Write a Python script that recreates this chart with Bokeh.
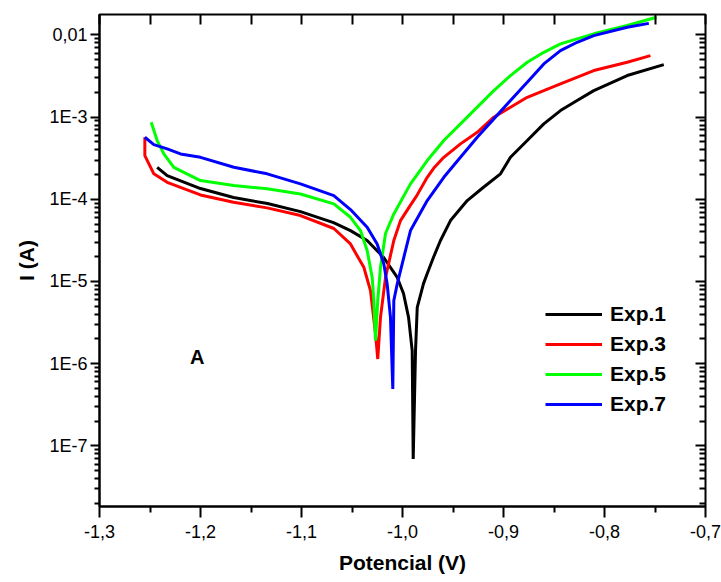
from bokeh.plotting import figure
from bokeh.models import (Range1d, FixedTicker, CustomJSTickFormatter, LinearAxis, LogAxis,
                          Label, Legend, LegendItem)
from bokeh.embed import file_html
from bokeh.resources import INLINE

# ---------------- data ----------------
exp1_x = [-1.2429, -1.233, -1.2, -1.1673, -1.1337, -1.101, -1.0683, -1.0515, -1.035, -1.0188,
          -1.0052, -0.999, -0.994, -0.9904, -0.9894, -0.9871, -0.9854, -0.9792, -0.9755, -0.9693,
          -0.9624, -0.9525, -0.9359, -0.9198, -0.903, -0.8931, -0.8765, -0.8601, -0.8436, -0.8271,
          -0.8106, -0.7775, -0.7413]
exp1_y = [2.45e-4, 1.94e-4, 1.35e-4, 1.05e-4, 8.87e-5, 7.08e-5, 5.21e-5, 4.16e-5, 3.15e-5, 1.97e-5,
          1.12e-5, 7.13e-6, 3.66e-6, 1.44e-6, 6.95e-8, 1.44e-6, 4.85e-6, 9.42e-6, 1.25e-5, 1.97e-5,
          3.15e-5, 5.51e-5, 9.64e-5, 1.40e-4, 2.04e-4, 3.24e-4, 5.18e-4, 8.26e-4, 1.20e-3, 1.59e-3,
          2.10e-3, 3.20e-3, 4.35e-3]

exp3_x = [-1.2551, -1.2551, -1.2462, -1.233, -1.2, -1.1673, -1.134, -1.101, -1.068, -1.0515,
          -1.0433, -1.0383, -1.0317, -1.0267, -1.0245, -1.0218, -1.0168, -1.0086, -1.002, -0.9921,
          -0.986, -0.9755, -0.969, -0.9591, -0.9426, -0.926, -0.9096, -0.8931, -0.8765, -0.8601,
          -0.8436, -0.8106, -0.7775, -0.7545]
exp3_y = [5.68e-4, 3.40e-4, 2.04e-4, 1.61e-4, 1.13e-4, 9.20e-5, 7.86e-5, 6.34e-5, 4.41e-5, 2.86e-5,
          1.90e-5, 1.49e-5, 7.75e-6, 2.31e-6, 1.14e-6, 3.66e-6, 1.12e-5, 3.15e-5, 5.5e-5, 8.5e-5,
          1.1e-4, 1.85e-4, 2.4e-4, 3.24e-4, 4.72e-4, 6.53e-4, 9.96e-4, 1.32e-3, 1.74e-3, 2.10e-3,
          2.54e-3, 3.68e-3, 4.64e-3, 5.60e-3]

exp5_x = [-1.2488, -1.2429, -1.2363, -1.2264, -1.2, -1.167, -1.134, -1.101, -1.068, -1.0515,
          -1.0416, -1.035, -1.03, -1.0284, -1.0267, -1.0245, -1.0218, -1.0168, -1.0086, -0.9921,
          -0.9755, -0.9591, -0.9426, -0.926, -0.9096, -0.8931, -0.8765, -0.8601, -0.8436, -0.8106,
          -0.7775, -0.7485]
exp5_y = [8.65e-4, 5.18e-4, 3.56e-4, 2.45e-4, 1.69e-4, 1.47e-4, 1.34e-4, 1.16e-4, 8.79e-5, 6.04e-5,
          4.16e-5, 2.38e-5, 1.12e-5, 5.86e-6, 1.91e-6, 5.86e-6, 1.49e-5, 3.83e-5, 6.64e-5, 1.54e-4,
          2.96e-4, 5.18e-4, 8.26e-4, 1.32e-3, 2.10e-3, 3.20e-3, 4.64e-3, 6.14e-3, 7.78e-3, 1.03e-2,
          1.30e-2, 1.64e-2]

exp7_x = [-1.2551, -1.2462, -1.233, -1.2198, -1.2, -1.167, -1.134, -1.101, -1.068, -1.0515,
          -1.035, -1.0251, -1.0185, -1.0152, -1.0119, -1.0096, -1.0086, -1.0052, -0.9987, -0.9921,
          -0.9755, -0.9591, -0.9426, -0.926, -0.9096, -0.8931, -0.8765, -0.8601, -0.8436, -0.8271,
          -0.8106, -0.7775, -0.7561]
exp7_y = [5.68e-4, 4.62e-4, 4.10e-4, 3.56e-4, 3.24e-4, 2.45e-4, 2.04e-4, 1.54e-4, 1.11e-4, 7.50e-5,
          4.56e-5, 2.86e-5, 1.64e-5, 9.35e-6, 3.66e-6, 4.93e-7, 5.86e-6, 9.35e-6, 1.97e-5, 4.16e-5,
          9.64e-5, 1.85e-4, 3.24e-4, 5.68e-4, 9.51e-4, 1.59e-3, 2.65e-3, 4.43e-3, 6.44e-3, 8.13e-3,
          9.80e-3, 1.24e-2, 1.38e-2]

series_names = ["Exp.1", "Exp.3", "Exp.5", "Exp.7"]
series_colors = ["#000000", "#ff0000", "#00ff00", "#0000ff"]

x_ticks = [-1.3, -1.2, -1.1, -1.0, -0.9, -0.8, -0.7]
x_tick_labels = ["-1,3", "-1,2", "-1,1", "-1,0", "-0,9", "-0,8", "-0,7"]
x_minor = [-1.25, -1.15, -1.05, -0.95, -0.85, -0.75]
y_ticks = [1e-7, 1e-6, 1e-5, 1e-4, 1e-3, 1e-2]
y_tick_labels = ["1E-7", "1E-6", "1E-5", "1E-4", "1E-3", "0,01"]
y_minor = [m * 10.0 ** e for e in range(-8, -1) for m in range(2, 10)]

FONT = "Liberation Sans"

p = figure(width=721, height=582, output_backend="svg", toolbar_location=None,
           y_axis_type="log",
           x_range=Range1d(-1.3, -0.7), y_range=Range1d(1.83e-8, 0.0177),
           min_border_left=99, min_border_right=16, min_border_top=14, min_border_bottom=76)
p.background_fill_color = "white"
p.border_fill_color = "white"
p.outline_line_color = "black"
p.outline_line_width = 2
p.xgrid.visible = False
p.ygrid.visible = False

xs = [exp1_x, exp3_x, exp5_x, exp7_x]
ys = [exp1_y, exp3_y, exp5_y, exp7_y]
renderers = []
for x, y, c in zip(xs, ys, series_colors):
    renderers.append(p.line(x, y, line_color=c, line_width=3))

# bottom axis
xa = p.xaxis[0]
xa.ticker = FixedTicker(ticks=x_ticks, minor_ticks=x_minor)
xa.formatter = CustomJSTickFormatter(args=dict(t=x_ticks, l=x_tick_labels), code="""
    for (let i = 0; i < t.length; i++) { if (Math.abs(t[i] - tick) < 1e-6) return l[i]; }
    return "";
""")
xa.axis_label = "Potencial (V)"
xa.axis_label_text_font = FONT
xa.axis_label_text_font_style = "bold"
xa.axis_label_text_font_size = "21px"
xa.axis_label_text_color = "black"
xa.axis_label_standoff = 10
xa.major_label_text_font = FONT
xa.major_label_text_font_size = "18px"
xa.major_label_text_color = "black"
xa.major_label_standoff = 7
xa.axis_line_width = 2
xa.axis_line_color = "black"
xa.major_tick_line_width = 2
xa.minor_tick_line_width = 2
xa.major_tick_line_color = "black"
xa.minor_tick_line_color = "black"
xa.major_tick_out = 11
xa.major_tick_in = 0
xa.minor_tick_out = 6
xa.minor_tick_in = 0

# left axis
ya = p.yaxis[0]
ya.ticker = FixedTicker(ticks=y_ticks, minor_ticks=y_minor)
ya.formatter = CustomJSTickFormatter(args=dict(t=y_ticks, l=y_tick_labels), code="""
    for (let i = 0; i < t.length; i++) { if (Math.abs(Math.log10(t[i]) - Math.log10(tick)) < 1e-6) return l[i]; }
    return "";
""")
ya.axis_label = "I (A)"
ya.axis_label_text_font = FONT
ya.axis_label_text_font_style = "bold"
ya.axis_label_text_font_size = "21px"
ya.axis_label_text_color = "black"
ya.axis_label_standoff = 8
ya.major_label_text_font = FONT
ya.major_label_text_font_size = "18px"
ya.major_label_text_color = "black"
ya.major_label_standoff = 3
ya.axis_line_width = 2
ya.axis_line_color = "black"
ya.major_tick_line_width = 2
ya.minor_tick_line_width = 2
ya.major_tick_line_color = "black"
ya.minor_tick_line_color = "black"
ya.major_tick_out = 9
ya.major_tick_in = 0
ya.minor_tick_out = 5
ya.minor_tick_in = 0

blank = CustomJSTickFormatter(code="return '';")

# top axis (ticks only, inward)
ta = LinearAxis(ticker=FixedTicker(ticks=x_ticks + x_minor, minor_ticks=[]), formatter=blank)
ta.axis_line_alpha = 0
ta.major_tick_line_width = 2
ta.major_tick_line_color = "black"
ta.major_tick_in = 10
ta.major_tick_out = 0
ta.minor_tick_line_alpha = 0
ta.major_label_text_font_size = "1px"
ta.major_label_standoff = 0
p.add_layout(ta, "above")

# right axis (ticks only, inward)
ra = LogAxis(ticker=FixedTicker(ticks=y_ticks, minor_ticks=y_minor), formatter=blank)
ra.axis_line_alpha = 0
ra.major_tick_line_width = 2
ra.minor_tick_line_width = 2
ra.major_tick_line_color = "black"
ra.minor_tick_line_color = "black"
ra.major_tick_in = 10
ra.major_tick_out = 0
ra.minor_tick_in = 6
ra.minor_tick_out = 0
ra.major_label_text_font_size = "1px"
ra.major_label_standoff = 0
p.add_layout(ra, "right")

# panel letter
p.add_layout(Label(x=-1.2033, y=1.22e-6, text="A", text_font=FONT, text_font_style="bold",
                   text_font_size="20px", text_color="black",
                   text_align="center", text_baseline="middle"))

# legend
legend = Legend(items=[LegendItem(label=n, renderers=[r]) for n, r in zip(series_names, renderers)],
                location=(441, 85))
legend.border_line_alpha = 0
legend.background_fill_alpha = 0
legend.label_text_font = FONT
legend.label_text_font_style = "bold"
legend.label_text_font_size = "21px"
legend.label_text_color = "black"
legend.glyph_width = 57
legend.glyph_height = 24
legend.label_height = 24
legend.spacing = 6
legend.label_standoff = 8
legend.padding = 5
legend.margin = 0
p.add_layout(legend)

open("out.html", "w").write(file_html(p, INLINE))
